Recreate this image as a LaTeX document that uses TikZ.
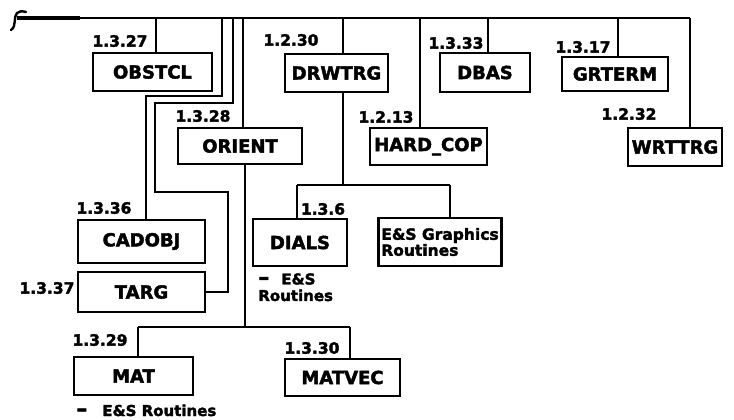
\documentclass[tikz,border=0pt]{standalone}
\usepackage{fontspec}
\setmainfont{DejaVu Sans}[BoldFeatures={FakeBold=2.2}]
\newcommand{\notedash}{{\fontsize{22}{16.5}\selectfont –}}
\begin{document}
\begin{tikzpicture}[x=1pt,y=-1pt,line width=2.7pt,
  box/.style={draw, rectangle, inner sep=0pt, font=\fontsize{18}{20}\selectfont\bfseries},
  lbl/.style={font=\fontsize{15.5}{17}\selectfont\bfseries, inner sep=0pt},
  note/.style={font=\fontsize{15}{16.5}\selectfont\bfseries, inner sep=0pt, align=left}]
\useasboundingbox (0,0) rectangle (734,420);
% boxes
\node[box, minimum width=119pt, minimum height=38pt] (obstcl) at (152.5,72) {OBSTCL};
\node[box, minimum width=103pt, minimum height=38pt] (drwtrg) at (336.5,73) {DRWTRG};
\node[box, minimum width=90pt, minimum height=39pt] (dbas) at (485,72.5) {DBAS};
\node[box, minimum width=106pt, minimum height=34pt] (grterm) at (615,74) {GRTERM};
\node[box, minimum width=94pt, minimum height=38pt] (wrttrg) at (675,147) {WRTTRG};
\node[box, minimum width=117pt, minimum height=37pt] (hardcop) at (428.5,146.5) {HARD\_COP};
\node[box, minimum width=124pt, minimum height=36pt] (orient) at (240,146) {ORIENT};
\node[box, minimum width=94pt, minimum height=47pt] (dials) at (300,242.5) {DIALS};
\node[box, minimum width=123pt, minimum height=48pt, align=left, font=\fontsize{15.5}{16}\selectfont\bfseries] (esg) at (440,242) {E\&S Graphics\\Routines};
\node[box, minimum width=127pt, minimum height=43pt] (cadobj) at (141.5,241.5) {CADOBJ};
\node[box, minimum width=127pt, minimum height=40pt] (targ) at (141.5,292) {TARG};
\node[box, minimum width=119pt, minimum height=38pt] (mat) at (133.5,376) {MAT};
\node[box, minimum width=115pt, minimum height=37pt] (matvec) at (342.5,377.5) {MATVEC};
% labels
\node[lbl] (l1) at (120,41) {1.3.27};
\node[lbl] (l2) at (291,40) {1.2.30};
\node[lbl] (l3) at (456,43) {1.3.33};
\node[lbl] (l4) at (583,47) {1.3.17};
\node[lbl] (l5) at (629,114) {1.2.32};
\node[lbl] (l6) at (386,117) {1.2.13};
\node[lbl] (l7) at (203,116) {1.3.28};
\node[lbl] (l8) at (104,208) {1.3.36};
\node[lbl] (l9) at (47,288) {1.3.37};
\node[lbl] (l10) at (323,209) {1.3.6};
\node[lbl] (l11) at (100,340) {1.3.29};
\node[lbl] (l12) at (312,348) {1.3.30};
% notes
\node[note, anchor=base west] (n1) at (75,416) {\notedash\hspace{15pt}E\&S Routines};
\node[note, anchor=north west] (n2) at (257,272) {\notedash\hspace{12pt}E\&S\\Routines};
% top line
\coordinate (L) at (17,18);
\coordinate (R) at (690,18);
\draw (L) -- (R);
\draw[line width=3.4pt] (L) -- (80,18);
\draw[line width=2.4pt, line cap=round] (11,30) .. controls (17,26) and (13,17) .. (17,13) .. controls (19,11) and (22,11) .. (26,12);
% drops from top line
\coordinate (tObs) at (156,18);
\coordinate (tDrw) at (343,18);
\coordinate (tHard) at (420,18);
\coordinate (tDbas) at (488,18);
\coordinate (tGrt) at (618,18);
\coordinate (tOri) at (243,18);
\coordinate (tCad) at (222,18);
\coordinate (tTarg) at (233,18);
\draw (tObs) -- (tObs |- obstcl.north);
\draw (tDrw) -- (tDrw |- drwtrg.north);
\draw (tHard) -- (tHard |- hardcop.north);
\draw (tDbas) -- (tDbas |- dbas.north);
\draw (tGrt) -- (tGrt |- grterm.north);
\draw (R) -- (R |- wrttrg.north);
\draw (tOri) -- (tOri |- orient.north);
\draw (tCad) -- (222,96) -- (146,96) -- (146,0 |- cadobj.north);
\draw (tTarg) -- (233,103) -- (155,103) -- (155,192) -- (228,192) -- (228,0 |- targ.east) -- (targ.east);
% DRWTRG subtree
\coordinate (dj) at (343,185);
\coordinate (dl) at (297,185);
\coordinate (dr) at (450,185);
\draw (drwtrg.south -| dj) -- (dj);
\draw (dl) -- (dr);
\draw (dl) -- (dl |- dials.north);
\draw (dr) -- (dr |- esg.north);
% ORIENT subtree
\coordinate (oj) at (245,327);
\coordinate (ol) at (138,327);
\coordinate (or) at (350,327);
\draw (orient.south -| oj) -- (oj);
\draw (ol) -- (or);
\draw (ol) -- (ol |- mat.north);
\draw (or) -- (or |- matvec.north);
\end{tikzpicture}
\end{document}
